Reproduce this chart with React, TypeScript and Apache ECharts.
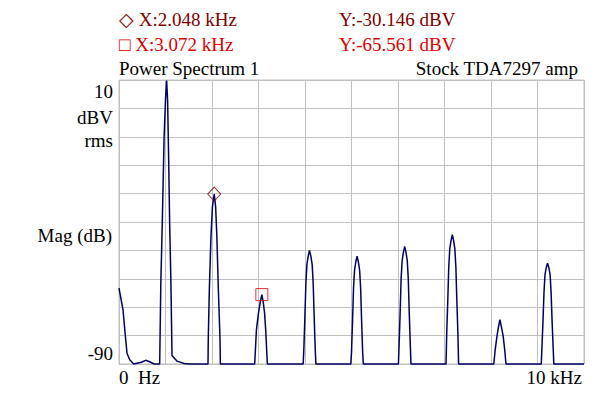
import React, { useEffect, useRef } from "react";
import * as echarts from "echarts";

// Spectrum trace: frequency (kHz) and magnitude (dBV rms)
const freqKHz = [
  0, 0.086, 0.138, 0.172, 0.23, 0.316, 0.48, 0.574, 0.66, 0.753, 0.875,
  0.885, 0.9, 0.93, 0.97, 1.0, 1.024, 1.045, 1.065, 1.09, 1.115, 1.14, 1.25, 1.4, 1.52,
  1.914, 1.92, 1.944, 1.978, 2.009, 2.048, 2.078, 2.105, 2.135, 2.172, 2.18,
  2.918, 2.955, 3.0, 3.04, 3.072, 3.1, 3.13, 3.155, 3.19,
  3.961, 3.976, 3.998, 4.019, 4.041, 4.069, 4.096, 4.126, 4.154, 4.176, 4.197, 4.219, 4.234,
  4.985, 5.0, 5.022, 5.043, 5.065, 5.093, 5.12, 5.147, 5.175, 5.197, 5.218, 5.24, 5.255,
  6.009, 6.024, 6.046, 6.067, 6.089, 6.117, 6.144, 6.171, 6.199, 6.221, 6.242, 6.264, 6.279,
  7.033, 7.048, 7.07, 7.091, 7.113, 7.141, 7.168, 7.195, 7.223, 7.245, 7.266, 7.288, 7.303,
  8.06, 8.09, 8.13, 8.16, 8.192, 8.225, 8.26, 8.295, 8.322,
  9.081, 9.096, 9.118, 9.139, 9.161, 9.189, 9.216, 9.243, 9.271, 9.293, 9.314, 9.336, 9.351,
  10,
];
const magDb = [
  -63.3, -70.9, -80.3, -86.2, -88.5, -90, -89.4, -88.7, -89.2, -90, -90,
  -90, -61, -41, -10, 3, 9.8, 3, -15, -41, -60, -87, -89, -89.8, -90,
  -90, -81, -63, -45.3, -34.6, -30.146, -34.6, -45.3, -63, -81, -90,
  -90, -78, -72, -68, -65.561, -68, -72, -78, -90,
  -90, -84.4, -73.3, -61.5, -55, -52, -50, -52, -55, -61.5, -73.3, -84.4, -90,
  -90, -86, -75, -63.5, -57, -54, -52, -54, -57, -63.5, -75, -86, -90,
  -90, -83, -72, -60, -53.6, -50.6, -48.6, -50.6, -53.6, -60, -72, -83, -90,
  -90, -79, -68, -56, -49.5, -46.5, -44.5, -46.5, -49.5, -56, -68, -79, -90,
  -90, -85, -80, -77, -74.4, -77, -80, -85, -90,
  -90, -84, -75, -65, -58.5, -56, -54.5, -56, -58.5, -65, -75, -84, -90,
  -90,
];

// Cursor readouts
const cursorX = [2.048, 3.072];
const cursorY = [-30.146, -65.561];
const cursorLabelsX = ["\u25C7 X:2.048 kHz", "\u25A1 X:3.072 kHz"];
const cursorLabelsY = ["Y:-30.146 dBV", "Y:-65.561 dBV"];

const titleLeft = "Power Spectrum 1";
const titleRight = "Stock TDA7297 amp";
const yLabels = ["10", "dBV", "rms", "Mag (dB)", "-90"];
const xLabels = ["0  Hz", "10 kHz"];

const FONT = "19px 'Liberation Serif', 'Times New Roman', serif";
const DARK_RED = "#800000";
const RED = "#dd0000";

export default function App() {
  const ref = useRef<HTMLDivElement>(null);
  useEffect(() => {
    if (!ref.current) return;
    const chart = echarts.init(ref.current, undefined, { renderer: "svg" });
    const trace = freqKHz.map((f, i) => [f, magDb[i]]);
    const txt = (text: string, x: number, y: number, fill: string, align: string) => ({
      type: "text",
      x,
      y,
      style: { text, x: 0, y: 0, font: FONT, fill, textAlign: align, textVerticalAlign: "middle" },
      silent: true,
    });
    chart.setOption({
      animation: false,
      backgroundColor: "#ffffff",
      grid: {
        left: 119,
        top: 80,
        width: 465,
        height: 284,
        show: true,
        borderColor: "#c0c0c0",
        borderWidth: 1,
        backgroundColor: "transparent",
      },
      xAxis: {
        type: "value",
        min: 0,
        max: 10,
        interval: 1,
        axisLine: { show: false },
        axisTick: { show: false },
        axisLabel: { show: false },
        splitLine: { show: true, lineStyle: { color: "#c0c0c0", width: 1 } },
      },
      yAxis: {
        type: "value",
        min: -90,
        max: 10,
        interval: 10,
        axisLine: { show: false },
        axisTick: { show: false },
        axisLabel: { show: false },
        splitLine: { show: true, lineStyle: { color: "#c0c0c0", width: 1 } },
      },
      series: [
        {
          type: "line",
          data: trace,
          showSymbol: false,
          clip: false,
          lineStyle: { color: "#000066", width: 1.5 },
          silent: true,
          z: 2,
        },
        {
          type: "scatter",
          data: [[cursorX[0], cursorY[0]]],
          symbol: "diamond",
          symbolSize: [13, 14],
          itemStyle: { color: "rgba(0,0,0,0)", borderColor: DARK_RED, borderWidth: 1 },
          silent: true,
          z: 3,
        },
        {
          type: "scatter",
          data: [[cursorX[1], cursorY[1]]],
          symbol: "rect",
          symbolSize: 12,
          itemStyle: { color: "rgba(0,0,0,0)", borderColor: RED, borderWidth: 1 },
          silent: true,
          z: 3,
        },
      ],
      graphic: [
        txt(cursorLabelsX[0], 119, 19, DARK_RED, "left"),
        txt(cursorLabelsY[0], 339, 19, DARK_RED, "left"),
        txt(cursorLabelsX[1], 119, 44, RED, "left"),
        txt(cursorLabelsY[1], 339, 44, RED, "left"),
        txt(titleLeft, 119, 68, "#000000", "left"),
        txt(titleRight, 578, 68, "#000000", "right"),
        txt(yLabels[0], 113, 91, "#000000", "right"),
        txt(yLabels[1], 113, 117, "#000000", "right"),
        txt(yLabels[2], 113, 140, "#000000", "right"),
        txt(yLabels[3], 112, 235, "#000000", "right"),
        txt(yLabels[4], 113, 353, "#000000", "right"),
        txt(xLabels[0], 119, 377, "#000000", "left"),
        txt(xLabels[1], 582, 377, "#000000", "right"),
      ],
    });
    return () => chart.dispose();
  }, []);
  return (
    <div
      ref={ref}
      style={{ position: "fixed", left: 0, top: 0, width: 600, height: 397, background: "#fff" }}
    />
  );
}
